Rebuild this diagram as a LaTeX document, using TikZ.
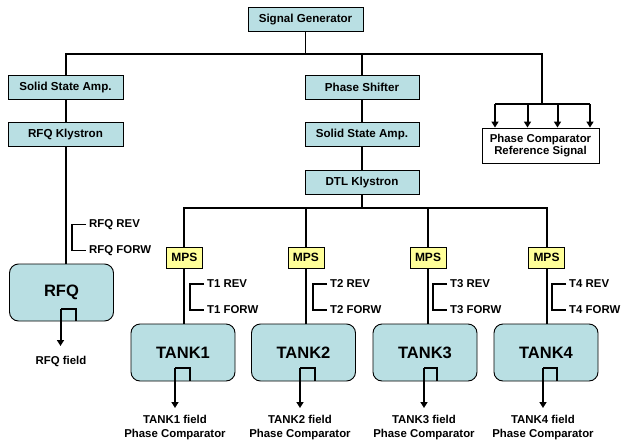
\documentclass[tikz,border=0pt]{standalone}
\usepackage{fontspec}
\setmainfont{Liberation Sans}
\usetikzlibrary{arrows.meta,calc}
\definecolor{boxcyan}{HTML}{B9DFE3}
\definecolor{mpsyellow}{HTML}{FFFF99}
\begin{document}
\begin{tikzpicture}[x=1pt,y=-1pt,
  blk/.style={draw=black,line width=0.9pt,fill=boxcyan,minimum width=115pt,minimum height=24pt,inner sep=0pt,font=\bfseries\fontsize{11.6}{13}\selectfont},
  refbox/.style={draw=black,line width=0.9pt,fill=white,minimum width=117pt,minimum height=35pt,inner sep=0pt,align=center,font=\bfseries\fontsize{11.4}{12.8}\selectfont},
  mpsbox/.style={draw=black,line width=0.8pt,fill=mpsyellow,minimum width=36pt,minimum height=21pt,inner sep=0pt,font=\bfseries\fontsize{12}{14}\selectfont},
  tankbox/.style={draw=black,line width=0.9pt,fill=boxcyan,rounded corners=9pt,minimum width=104pt,minimum height=57pt,inner sep=0pt,font=\bfseries\fontsize{16.5}{18}\selectfont},
  lbl/.style={anchor=west,inner sep=1pt,font=\bfseries\fontsize{11.4}{13}\selectfont},
  fieldlbl/.style={align=center,inner sep=0pt,font=\bfseries\fontsize{11.4}{14.5}\selectfont},
  conn/.style={draw=black,line width=1.5pt},
  brk/.style={draw=black,line width=1.6pt},
  arr/.style={draw=black,line width=2pt,-{Triangle[width=7pt,length=6pt]}},
  port/.style={draw=black,line width=1.4pt}
]
\useasboundingbox (0,0) rectangle (622,445);

% top chain
\node[blk] (sg) at (305.5,19.5) {Signal Generator};
\node[blk] (ssa1) at (65.5,87.5) {Solid State Amp.};
\node[blk] (rfqk) at (65.5,134) {RFQ Klystron};
\node[blk,minimum width=114pt] (ps) at (362,87.5) {Phase Shifter};
\node[blk,minimum width=114pt] (ssa2) at (362,134) {Solid State Amp.};
\node[blk,minimum width=114pt] (dtl) at (362,182) {DTL Klystron};
\node[refbox] (pcr) at (540.5,145.5) {Phase Comparator\\Reference Signal};

% MPS
\node[mpsbox] (mps1) at (184.5,257.5) {MPS};
\node[mpsbox] (mps2) at (306,257.5) {MPS};
\node[mpsbox] (mps3) at (428,257.5) {MPS};
\node[mpsbox] (mps4) at (546.5,257.5) {MPS};

% cavities
\node[tankbox] (rfq) at (61.5,292.5) {RFQ};
\node[tankbox] (tank1) at (183,352.5) {TANK1};
\node[tankbox] (tank2) at (303.5,352.5) {TANK2};
\node[tankbox] (tank3) at (425,352.5) {TANK3};
\node[tankbox] (tank4) at (546,352.5) {TANK4};

% main bus
\coordinate (bl) at (66,54);
\coordinate (br) at (542,54);
\coordinate (bm) at (362,54);
\coordinate (bs) at (305.5,54);
\draw[conn] (sg.south) -- (bs);
\draw[conn] (ssa1.north -| bl) -- (bl) -- (br) -- (542,104);
\draw[conn] (bm) -- (ps.north);
\draw[conn] (ssa1.south -| bl) -- (rfqk.north -| bl);
\draw[conn] (rfqk.south -| bl) -- (rfq.north -| bl);
\draw[conn] (ps) -- (ssa2);
\draw[conn] (ssa2) -- (dtl);

% reference distribution
\coordinate (r1) at (495,104);
\coordinate (r2) at (527.5,104);
\coordinate (r3) at (557.5,104);
\coordinate (r4) at (590,104);
\draw[draw=black,line width=1.8pt] (r1) -- (r4);
\draw[arr] (r1) -- (r1 |- pcr.north);
\draw[arr] (r2) -- (r2 |- pcr.north);
\draw[arr] (r3) -- (r3 |- pcr.north);
\draw[arr] (r4) -- (r4 |- pcr.north);

% DTL bus
\coordinate (dl) at (184,208);
\coordinate (dr) at (547,208);
\draw[conn] (dtl.south) -- (dtl.south |- dl);
\draw[conn] (mps1.north -| dl) -- (dl) -- (dr) -- (mps4.north -| dr);
\draw[conn] (mps2.north) -- (mps2.north |- dl);
\draw[conn] (mps3.north) -- (mps3.north |- dl);
\draw[conn] (mps1.south -| dl) -- (tank1.north -| dl);
\draw[conn] (mps2.south) -- (tank2.north -| mps2.south);
\draw[conn] (mps3.south) -- (tank3.north -| mps3.south);
\draw[conn] (mps4.south -| dr) -- (tank4.north -| dr);

% REV / FORW labels
\node[lbl] (rfqrev) at (88,224.5) {RFQ REV};
\node[lbl] (rfqforw) at (88,250.5) {RFQ FORW};
\draw[brk] (rfqrev.west) ++(-2,0) -- (72,224.5) |- ($(rfqforw.west)+(-2,0)$);
\node[lbl] (t1rev) at (206,284) {T1 REV};
\node[lbl] (t1forw) at (206,310) {T1 FORW};
\draw[brk] (t1rev.west) ++(-2,0) -- (190,284) |- ($(t1forw.west)+(-2,0)$);
\node[lbl] (t2rev) at (329,284) {T2 REV};
\node[lbl] (t2forw) at (329,310) {T2 FORW};
\draw[brk] (t2rev.west) ++(-2,0) -- (313,284) |- ($(t2forw.west)+(-2,0)$);
\node[lbl] (t3rev) at (449,284) {T3 REV};
\node[lbl] (t3forw) at (449,310) {T3 FORW};
\draw[brk] (t3rev.west) ++(-2,0) -- (433,284) |- ($(t3forw.west)+(-2,0)$);
\node[lbl] (t4rev) at (568,284) {T4 REV};
\node[lbl] (t4forw) at (568,310) {T4 FORW};
\draw[brk] (t4rev.west) ++(-2,0) -- (552,284) |- ($(t4forw.west)+(-2,0)$);

% field outputs
\node[fieldlbl] (rfqf) at (61,361) {RFQ field};
\node[fieldlbl] (t1f) at (175,427.5) {TANK1 field\\Phase Comparator};
\node[fieldlbl] (t2f) at (300,427.5) {TANK2 field\\Phase Comparator};
\node[fieldlbl] (t3f) at (424,427.5) {TANK3 field\\Phase Comparator};
\node[fieldlbl] (t4f) at (543,427.5) {TANK4 field\\Phase Comparator};

\coordinate (a0) at (60.5,309);
\coordinate (a1) at (175,368);
\coordinate (a2) at (300,368);
\coordinate (a3) at (424,368);
\coordinate (a4) at (543,368);
\draw[port] (76,321) -- (76,309) -- (a0);
\draw[port] (190,381) -- (190,368) -- (a1);
\draw[port] (315,381) -- (315,368) -- (a2);
\draw[port] (437,381) -- (437,368) -- (a3);
\draw[port] (557,381) -- (557,368) -- (a4);
\draw[arr] (a0) -- (60.5,346);
\draw[arr] (a1) -- (175,408);
\draw[arr] (a2) -- (300,408);
\draw[arr] (a3) -- (424,408);
\draw[arr] (a4) -- (543,408);
\end{tikzpicture}
\end{document}
